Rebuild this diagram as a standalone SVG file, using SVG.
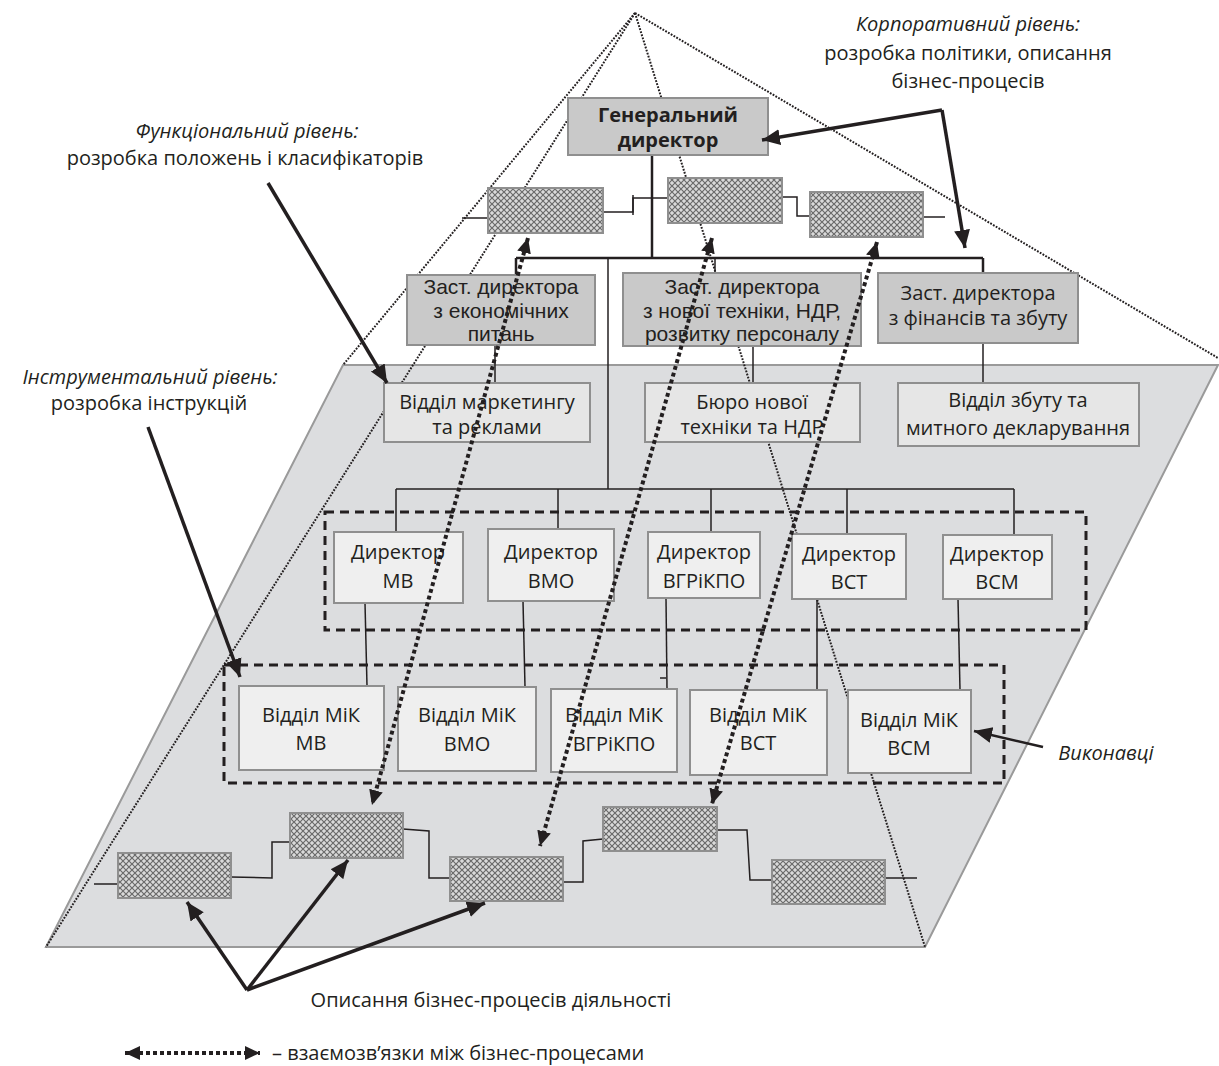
<svg xmlns="http://www.w3.org/2000/svg" width="1219" height="1066" viewBox="0 0 1219 1066">
<style>
.t{font-family:"Open Sans","Noto Sans","Liberation Sans",sans-serif;font-size:20px;fill:#231f20;text-anchor:middle}
.c{font-family:"Liberation Sans",Arial,sans-serif;font-size:21px}
.i{font-style:italic}
.b{font-weight:bold}
.dk{fill:#c9c9c9;stroke:#8f8f8f;stroke-width:2}
.lt{fill:#e6e6e6;stroke:#8f8f8f;stroke-width:2}
.wh{fill:#efefef;stroke:#8f8f8f;stroke-width:2}
.hb{fill:url(#hatch);stroke:#8f8f8f;stroke-width:2}
.ln{fill:none;stroke:#231f20;stroke-width:1.5}
.tr{fill:none;stroke:#231f20;stroke-width:2.5}
.dot{fill:none;stroke:#231f20;stroke-width:2;stroke-dasharray:1.8 1.4}
.dash{fill:none;stroke:#231f20;stroke-width:3;stroke-dasharray:9 6}
.big{fill:none;stroke:#231f20;stroke-width:4;stroke-dasharray:4 3}
.ar{fill:none;stroke:#231f20;stroke-width:3.5}
</style>
<defs>
<pattern id="hatch" width="6" height="6" patternUnits="userSpaceOnUse">
<rect width="6" height="6" fill="#dadada"/>
<path d="M0,0 L6,6 M6,0 L0,6" stroke="#6a6a6a" stroke-width="1.2"/>
</pattern>
<marker id="ah" markerUnits="userSpaceOnUse" markerWidth="22" markerHeight="18" refX="18" refY="9" orient="auto-start-reverse">
<path d="M0,1 L18,9 L0,17 Z" fill="#231f20"/>
</marker>
<marker id="ahs" markerUnits="userSpaceOnUse" markerWidth="18" markerHeight="16" refX="15" refY="8" orient="auto-start-reverse">
<path d="M0,1 L15,8 L0,15 Z" fill="#231f20"/>
</marker>
</defs>
<rect width="1219" height="1066" fill="#ffffff"/>

<g id="plane">
<polygon points="343,365 1218,365 925,947 46,947" fill="#dcdddf" stroke="#9a9a9a" stroke-width="2"/>
</g>

<g id="pyramid-edges">
<line class="dot" x1="635" y1="13" x2="343" y2="365"/>
<line class="dot" x1="635" y1="13" x2="46" y2="947"/>
<line class="dot" x1="635" y1="13" x2="1218" y2="358"/>
<line class="dot" x1="635" y1="13" x2="925" y2="947"/>
</g>

<g id="connectors">
<line class="ln" x1="462" y1="218" x2="488" y2="218"/>
<polyline class="ln" points="603,212 633,212 633,198 668,198"/>
<line class="ln" x1="633" y1="195" x2="633" y2="215"/>
<polyline class="ln" points="782,197 797,197 797,216 810,216"/>
<line class="ln" x1="923" y1="217" x2="945" y2="217"/>
<line class="tr" x1="652" y1="155" x2="652" y2="258"/>
<line class="tr" x1="516" y1="258" x2="983" y2="258"/>
<line class="tr" x1="516" y1="258" x2="516" y2="275"/>
<line class="ln" x1="715" y1="258" x2="715" y2="273"/>
<line class="tr" x1="983" y1="258" x2="983" y2="273"/>
<line class="ln" x1="608" y1="258" x2="608" y2="489"/>
<line class="ln" x1="495" y1="345" x2="495" y2="383"/>
<line class="ln" x1="753" y1="346" x2="753" y2="383"/>
<line class="ln" x1="983" y1="343" x2="983" y2="383"/>
<line class="ln" x1="396" y1="489" x2="1014" y2="489"/>
<line class="ln" x1="396" y1="489" x2="396" y2="532"/>
<line class="ln" x1="558" y1="489" x2="558" y2="529"/>
<line class="ln" x1="711" y1="489" x2="711" y2="532"/>
<line class="ln" x1="847" y1="489" x2="847" y2="534"/>
<line class="ln" x1="1014" y1="489" x2="1014" y2="535"/>
<line class="ln" x1="365" y1="603" x2="367" y2="686"/>
<line class="ln" x1="523" y1="601" x2="525" y2="687"/>
<line class="ln" x1="666" y1="598" x2="667" y2="689"/>
<line class="ln" x1="660" y1="678" x2="666" y2="678"/>
<line class="ln" x1="817" y1="599" x2="817" y2="690"/>
<line class="ln" x1="958" y1="599" x2="960" y2="690"/>
<line class="ln" x1="94" y1="884" x2="118" y2="884"/>
<polyline class="ln" points="231,877 272,878 272,842 290,842"/>
<polyline class="ln" points="403,829 429,831 429,878 450,878"/>
<polyline class="ln" points="563,882 583,882 583,841 603,839"/>
<polyline class="ln" points="717,830 747,830 750,880 772,880"/>
<line class="ln" x1="885" y1="878" x2="917" y2="878"/>
</g>

<g id="groups">
<rect class="dash" x="325" y="512" width="761" height="118"/>
<rect class="dash" x="224" y="665" width="780" height="118"/>
</g>

<g id="bp-top">
<rect class="hb" x="488" y="188" width="115" height="45"/>
<rect class="hb" x="668" y="178" width="114" height="45"/>
<rect class="hb" x="810" y="192" width="113" height="45"/>
</g>
<g id="bp-bottom">
<rect class="hb" x="118" y="853" width="113" height="45"/>
<rect class="hb" x="290" y="813" width="113" height="45"/>
<rect class="hb" x="450" y="857" width="113" height="44"/>
<rect class="hb" x="603" y="807" width="114" height="44"/>
<rect class="hb" x="772" y="860" width="113" height="44"/>
</g>

<g id="gen-dir">
<rect class="dk" x="568" y="98" width="200" height="57"/>
<text class="t b" x="668" y="122">Генеральний</text>
<text class="t b" x="668" y="147">директор</text>
</g>
<g id="zast-econ">
<rect class="dk" x="407" y="275" width="188" height="70"/>
<text class="t c" x="501" y="294">Заст. директора</text>
<text class="t c" x="501" y="317.5">з економічних</text>
<text class="t c" x="501" y="341">питань</text>
</g>
<g id="zast-tech">
<rect class="dk" x="623" y="273" width="238" height="73"/>
<text class="t c" x="742" y="294">Заст. директора</text>
<text class="t c" x="742" y="317.5">з нової техніки, НДР,</text>
<text class="t c" x="742" y="341">розвитку персоналу</text>
</g>
<g id="zast-fin">
<rect class="dk" x="878" y="273" width="200" height="70"/>
<text class="t" x="978" y="300">Заст. директора</text>
<text class="t" x="978" y="325">з фінансів та збуту</text>
</g>
<g id="marketing">
<rect class="lt" x="384" y="383" width="206" height="59"/>
<text class="t" x="487" y="409">Відділ маркетингу</text>
<text class="t" x="487" y="434">та реклами</text>
</g>
<g id="buro">
<rect class="lt" x="645" y="383" width="215" height="59"/>
<text class="t" x="752" y="409">Бюро нової</text>
<text class="t" x="752" y="434">техніки та НДР</text>
</g>
<g id="zbut">
<rect class="lt" x="898" y="383" width="241" height="63"/>
<text class="t" x="1018" y="407">Відділ збуту та</text>
<text class="t" x="1018" y="435">митного декларування</text>
</g>

<g id="dir-mv">
<rect class="wh" x="334" y="532" width="129" height="71"/>
<text class="t" x="398" y="559">Директор</text>
<text class="t" x="398" y="588">МВ</text>
</g>
<g id="dir-vmo">
<rect class="wh" x="488" y="529" width="126" height="72"/>
<text class="t" x="551" y="559">Директор</text>
<text class="t" x="551" y="588">ВМО</text>
</g>
<g id="dir-vgr">
<rect class="wh" x="648" y="532" width="112" height="66"/>
<text class="t" x="704" y="559">Директор</text>
<text class="t" x="704" y="588">ВГРіКПО</text>
</g>
<g id="dir-vst">
<rect class="wh" x="792" y="534" width="114" height="65"/>
<text class="t" x="849" y="561">Директор</text>
<text class="t" x="849" y="589">ВСТ</text>
</g>
<g id="dir-vsm">
<rect class="wh" x="943" y="535" width="109" height="64"/>
<text class="t" x="997" y="561">Директор</text>
<text class="t" x="997" y="589">ВСМ</text>
</g>

<g id="mik-mv">
<rect class="wh" x="239" y="686" width="145" height="84"/>
<text class="t" x="311" y="722">Відділ МіК</text>
<text class="t" x="311" y="750">МВ</text>
</g>
<g id="mik-vmo">
<rect class="wh" x="398" y="687" width="138" height="84"/>
<text class="t" x="467" y="722">Відділ МіК</text>
<text class="t" x="467" y="751">ВМО</text>
</g>
<g id="mik-vgr">
<rect class="wh" x="551" y="689" width="126" height="83"/>
<text class="t" x="614" y="722">Відділ МіК</text>
<text class="t" x="614" y="751">ВГРіКПО</text>
</g>
<g id="mik-vst">
<rect class="wh" x="690" y="690" width="137" height="85"/>
<text class="t" x="758" y="722">Відділ МіК</text>
<text class="t" x="758" y="750">ВСТ</text>
</g>
<g id="mik-vsm">
<rect class="wh" x="848" y="690" width="123" height="83"/>
<text class="t" x="909" y="727">Відділ МіК</text>
<text class="t" x="909" y="755">ВСМ</text>
</g>

<g id="bp-links">
<line class="big" x1="528" y1="238" x2="372" y2="805" marker-start="url(#ahs)" marker-end="url(#ahs)"/>
<line class="big" x1="712" y1="238" x2="540" y2="846" marker-start="url(#ahs)" marker-end="url(#ahs)"/>
<line class="big" x1="877" y1="242" x2="712" y2="804" marker-start="url(#ahs)" marker-end="url(#ahs)"/>
</g>

<g id="label-arrows">
<polyline class="ar" points="942,110 762,140" marker-end="url(#ah)"/>
<polyline class="ar" points="942,110 965,248" marker-end="url(#ah)"/>
<line class="ar" x1="268" y1="183" x2="387" y2="383" marker-end="url(#ah)"/>
<line class="ar" x1="148" y1="427" x2="240" y2="677" marker-end="url(#ah)"/>
<line class="ar" x1="247" y1="990" x2="187" y2="902" marker-end="url(#ah)"/>
<line class="ar" x1="247" y1="990" x2="348" y2="860" marker-end="url(#ah)"/>
<line class="ar" x1="247" y1="990" x2="485" y2="903" marker-end="url(#ah)"/>
<line class="tr" x1="1043" y1="747" x2="974" y2="731" marker-end="url(#ah)"/>
</g>

<g id="labels">
<text class="t i" x="968" y="31">Корпоративний рівень:</text>
<text class="t" x="968" y="60">розробка політики, описання</text>
<text class="t" x="968" y="88">бізнес-процесів</text>
<text class="t i" x="247" y="138">Функціональний рівень:</text>
<text class="t" x="245" y="165">розробка положень і класифікаторів</text>
<text class="t i" x="150" y="384">Інструментальний рівень:</text>
<text class="t" x="149" y="410">розробка інструкцій</text>
<text class="t i" x="1106" y="760">Виконавці</text>
<text class="t" x="491" y="1007">Описання бізнес-процесів діяльності</text>
</g>

<g id="legend">
<line class="big" x1="125" y1="1053" x2="260" y2="1053" stroke-dasharray="3 2" marker-start="url(#ahs)" marker-end="url(#ahs)"/>
<text class="t" x="272" y="1060" style="text-anchor:start">– взаємозв’язки між бізнес-процесами</text>
</g>
</svg>
